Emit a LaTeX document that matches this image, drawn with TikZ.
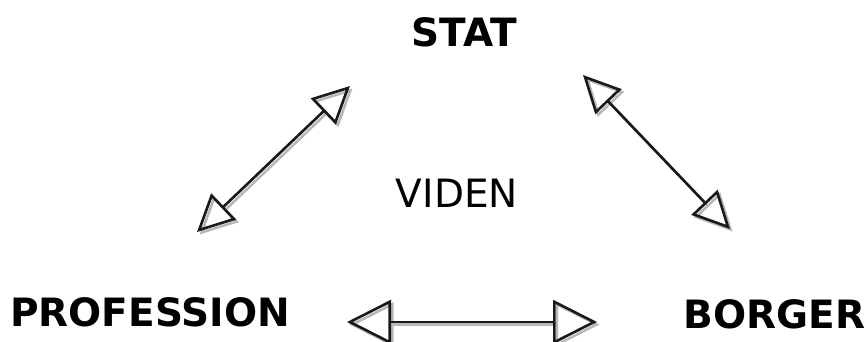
\documentclass[tikz,border=0pt]{standalone}
\usepackage{fontspec}
\setmainfont{DejaVu Sans}
\usetikzlibrary{arrows.meta}
\begin{document}
\begin{tikzpicture}[x=1pt,y=-1pt,
  lbl/.style={inner sep=0pt, font=\fontsize{39}{40}\selectfont\bfseries},
  plain/.style={inner sep=0pt, font=\fontsize{39}{40}\selectfont},
  diag/.style={line width=2.6pt, line join=miter,
    {Triangle[open,length=37pt,width=36pt]}-{Triangle[open,length=37pt,width=36pt]}},
  horiz/.style={line width=2.6pt, line join=miter,
    {Triangle[open,length=44pt,width=44pt]}-{Triangle[open,length=44pt,width=44pt]}},
  shadow/.style={draw=black!28, transform canvas={shift={(2.5,2.5)}}},
  main/.style={draw=black!90}
]
\useasboundingbox (0,0) rectangle (866,341);
\clip (0,0) rectangle (866,341);
% labels
\node[lbl]   (stat) at (464.5,32.5) {STAT};
\node[plain] (viden) at (457,193.5) {VIDEN};
\node[lbl]   (prof) at (150,312.5) {PROFESSION};
\node[lbl]   (borg) at (774.5,314.5) {BORGER};
% arrow end points
\coordinate (l1) at (197,232);
\coordinate (l2) at (350,86);
\coordinate (r1) at (583,75);
\coordinate (r2) at (730,229);
\coordinate (h1) at (347,322);
\coordinate (h2) at (597,322);
% shadows
\draw[diag,shadow] (l1) -- (l2);
\draw[diag,shadow] (r1) -- (r2);
\draw[horiz,shadow] (h1) -- (h2);
% arrows
\draw[diag,main] (l1) -- (l2);
\draw[diag,main] (r1) -- (r2);
\draw[horiz,main] (h1) -- (h2);
\end{tikzpicture}
\end{document}
